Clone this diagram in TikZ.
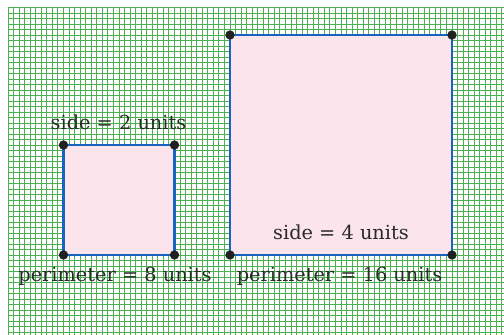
\documentclass[tikz,border=0pt]{standalone}
\usepackage{fontspec}
\setmainfont{DejaVu Serif}
\definecolor{gridgreen}{HTML}{4CAF50}
\definecolor{sqfill}{HTML}{FCE4EC}
\definecolor{sqedge}{HTML}{1565C0}
\definecolor{dotc}{HTML}{212121}
\definecolor{txt}{HTML}{2A2A2A}
\tikzset{
  gridline/.style={draw=gridgreen, line width=0.7pt},
  square/.style={draw=sqedge, fill=sqfill, line width=1.8pt},
  corner/.style={circle, fill=dotc, inner sep=0pt, minimum size=7pt},
  lbl/.style={text=txt, font=\fontsize{14.5}{17}\selectfont, inner sep=0pt}
}
\begin{document}
\begin{tikzpicture}[x=0.75pt, y=-0.75pt]
\useasboundingbox (0,0) rectangle (504,335);
\fill[white] (0,0) rectangle (504,335);
% grid
\foreach \i in {0,...,89} {
  \draw[gridline] ({8+5.55*\i},7.5) -- ({8+5.55*\i},336);
}
\foreach \j in {0,...,59} {
  \draw[gridline] (8,{7.5+5.5*\j}) -- (505,{7.5+5.5*\j});
}
% small square
\coordinate (s1) at (63.5,145);
\coordinate (s2) at (174.5,145);
\coordinate (s3) at (174.5,255);
\coordinate (s4) at (63.5,255);
\draw[square] (s1) -- (s2) -- (s3) -- (s4) -- cycle;
% large square
\coordinate (b1) at (230,35);
\coordinate (b2) at (452,35);
\coordinate (b3) at (452,255);
\coordinate (b4) at (230,255);
\draw[square] (b1) -- (b2) -- (b3) -- (b4) -- cycle;
% corner dots
\foreach \c in {s1,s2,s3,s4,b1,b2,b3,b4} {
  \node[corner] (d\c) at (\c) {};
}
% labels
\node[lbl] (sideA) at (118.5,122) {side = 2 units};
\node[lbl] (perA) at (115,276) {perimeter = 8 units};
\node[lbl] (sideB) at (341,232) {side = 4 units};
\node[lbl] (perB) at (339.5,276) {perimeter = 16 units};
\end{tikzpicture}
\end{document}
